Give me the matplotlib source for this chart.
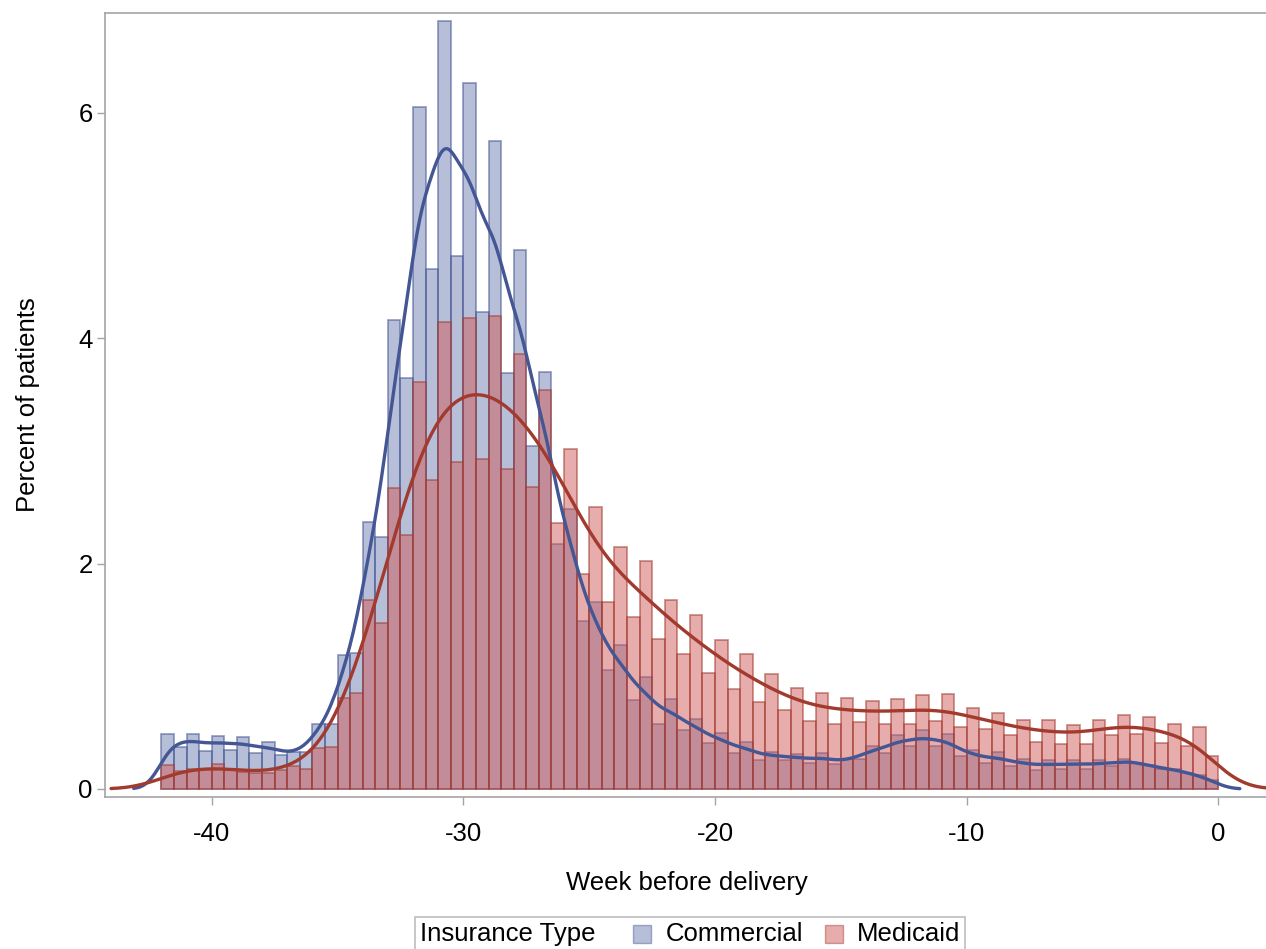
import matplotlib
matplotlib.use('Agg')
import matplotlib.pyplot as plt
from matplotlib.patches import Rectangle
from matplotlib.offsetbox import AnchoredOffsetbox, HPacker, TextArea, DrawingArea
from matplotlib.colors import to_rgba
import numpy as np

plt.rcParams['font.family'] = ['Liberation Sans', 'DejaVu Sans']

# half-week bins, left edges from week -42 up to -0.5
bin_start = np.arange(-42, 0, 0.5)

# percent of patients per half-week bin
commercial = [
    0.49, 0.37, 0.49, 0.34, 0.47, 0.35, 0.46, 0.32, 0.42, 0.30, 0.33, 0.33, 0.58, 0.58,
    1.19, 1.21, 2.37, 2.24, 4.16, 3.65, 6.05, 4.61, 6.81, 4.73, 6.26, 4.23, 5.75, 3.69, 4.78,
    3.04, 3.70, 2.17, 2.48, 1.49, 1.66, 1.06, 1.28, 0.79, 0.99, 0.58, 0.80, 0.52, 0.62, 0.41,
    0.50, 0.32, 0.42, 0.26, 0.33, 0.26, 0.31, 0.23, 0.32, 0.22, 0.27, 0.27, 0.38,
    0.32, 0.48, 0.38, 0.52, 0.38, 0.49, 0.29, 0.35, 0.23, 0.33, 0.20, 0.27, 0.17, 0.26,
    0.18, 0.26, 0.18, 0.26, 0.20, 0.27, 0.23, 0.21, 0.18, 0.18, 0.14, 0.12, 0.08,
]
medicaid = [
    0.21, 0.16, 0.18, 0.18, 0.22, 0.18, 0.15, 0.14, 0.14, 0.17, 0.20, 0.18, 0.36, 0.37,
    0.81, 0.85, 1.68, 1.47, 2.67, 2.25, 3.61, 2.74, 4.14, 2.90, 4.18, 2.93, 4.20, 2.84, 3.86,
    2.68, 3.54, 2.36, 3.02, 1.91, 2.50, 1.66, 2.15, 1.53, 2.02, 1.33, 1.68, 1.20, 1.54, 1.03,
    1.32, 0.89, 1.20, 0.77, 1.02, 0.70, 0.90, 0.60, 0.85, 0.58, 0.81, 0.59, 0.78,
    0.58, 0.80, 0.58, 0.83, 0.60, 0.84, 0.55, 0.72, 0.53, 0.67, 0.48, 0.61, 0.42, 0.61,
    0.40, 0.57, 0.40, 0.61, 0.48, 0.66, 0.49, 0.64, 0.41, 0.58, 0.38, 0.55, 0.29,
]

groups = ['Commercial', 'Medicaid']
x_ticks = [-40, -30, -20, -10, 0]
y_ticks = [0, 2, 4, 6]

# kernel bandwidths (weeks) and the span each density curve is drawn over
bandwidth = {'Commercial': 0.5, 'Medicaid': 1.0}
curve_span = {'Commercial': (-43.1, 0.85), 'Medicaid': (-44.0, 2.0)}

fill_col = {'Commercial': '#6F7EB3', 'Medicaid': '#D05B5B'}
line_col = {'Commercial': '#445694', 'Medicaid': '#A23A2E'}
FRAME = '#a4a4a4'
FS = 18.5


def kernel_density(values, bw, grid):
    # gaussian kernel smoothing of the binned percentages, kept on the percent-per-bin scale
    centers = bin_start + 0.25
    d = (grid[:, None] - centers[None, :]) / bw
    k = np.exp(-0.5 * d ** 2) / (bw * np.sqrt(2 * np.pi))
    return 0.5 * (k * np.asarray(values)[None, :]).sum(axis=1)


fig = plt.figure(figsize=(12.66, 9.49), dpi=100)
ax = fig.add_axes([105 / 1266, 1 - 797 / 949, (1268.5 - 105) / 1266, (797 - 13) / 949])

data = {'Commercial': commercial, 'Medicaid': medicaid}
for g in groups:
    ax.bar(bin_start, data[g], width=0.5, align='edge',
           facecolor=to_rgba(fill_col[g], 0.5), edgecolor=to_rgba(line_col[g], 0.55),
           linewidth=1.3, zorder=2)

for g in groups:
    lo, hi = curve_span[g]
    grid = np.linspace(lo, hi, 600)
    ax.plot(grid, kernel_density(data[g], bandwidth[g], grid), color=line_col[g],
            linewidth=2.4, zorder=3, solid_capstyle='round')

ax.set_xlim(-44.24, 1.99)
ax.set_ylim(-0.071, 6.885)
ax.set_xticks(x_ticks)
ax.set_yticks(y_ticks)
ax.set_xticklabels([str(t) for t in x_ticks])
ax.tick_params(axis='both', colors=FRAME, labelcolor='black', labelsize=FS, length=6, width=1)
ax.tick_params(axis='x', pad=12)
ax.tick_params(axis='y', pad=3)
for s in ax.spines.values():
    s.set_color(FRAME)
    s.set_linewidth(1.2)

ax.set_xlabel('Week before delivery', fontsize=FS, labelpad=18)
ax.set_ylabel('Percent of patients', fontsize=FS)
ax.yaxis.set_label_coords((40 - 105) / 1163.5, 0.5)


def swatch(g):
    da = DrawingArea(13, 13, 0, 0)
    da.add_artist(Rectangle((0, 0), 13, 13, facecolor=to_rgba(fill_col[g], 0.5),
                            edgecolor=to_rgba(line_col[g], 0.45), linewidth=1))
    return da


tp = dict(fontsize=FS, color='black')
title_box = HPacker(children=[TextArea('Insurance Type', textprops=tp), DrawingArea(11.5, 1)],
                    sep=0, align='center')
entries = [title_box]
for g in groups:
    entries.append(HPacker(children=[swatch(g), TextArea(g, textprops=tp)], sep=10, align='center'))
box = HPacker(children=entries, sep=16, align='center')
leg = AnchoredOffsetbox(loc='upper center', child=box, pad=0.35, borderpad=0, frameon=True,
                        bbox_to_anchor=(690 / 1266, 1 - 917 / 949), bbox_transform=fig.transFigure)
leg.patch.set_edgecolor('#bdbdbd')
leg.patch.set_linewidth(1.2)
fig.add_artist(leg)

fig.savefig('out.png', dpi=100)
